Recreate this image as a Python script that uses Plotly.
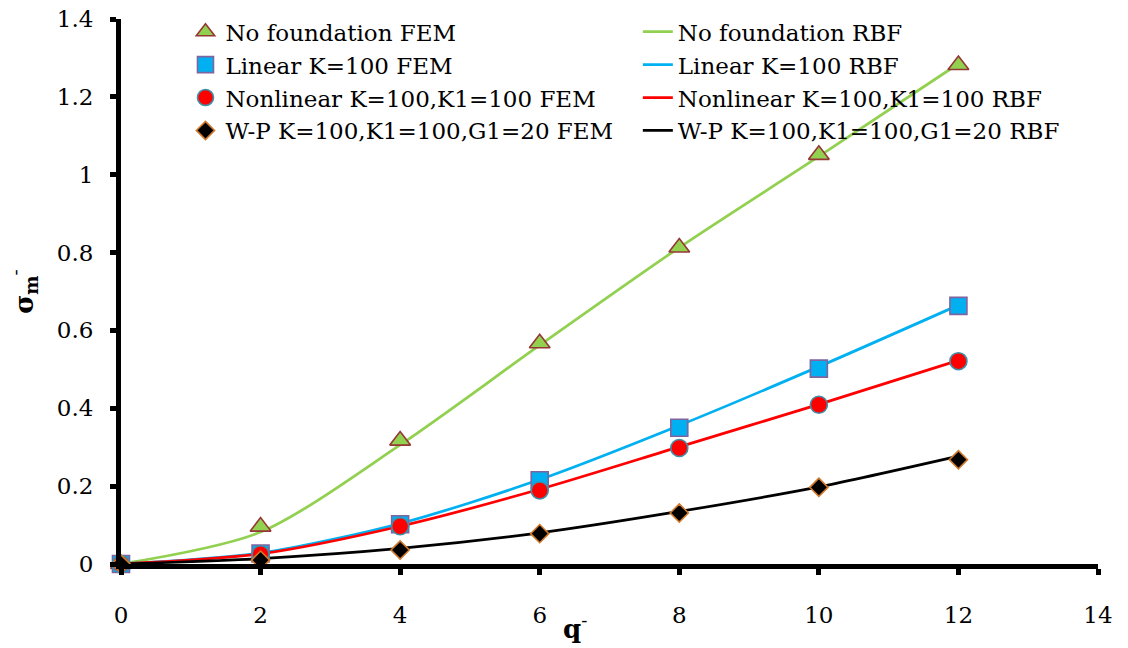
import plotly.graph_objects as go

# Load parameter q and stress values
q = [0, 2, 4, 6, 8, 10, 12]

# FEM results (markers)
fem_none = [0, 0.096, 0.317, 0.567, 0.813, 1.051, 1.282]
fem_linear = [0, 0.027, 0.102, 0.215, 0.35, 0.502, 0.663]
fem_nonlinear = [0, 0.025, 0.097, 0.189, 0.298, 0.409, 0.521]
fem_wp = [0, 0.01, 0.036, 0.078, 0.131, 0.197, 0.268]

# RBF results (smooth lines)
rbf_none = [0, 0.082, 0.306, 0.562, 0.813, 1.047, 1.285]
rbf_linear = [0, 0.028, 0.104, 0.217, 0.356, 0.507, 0.665]
rbf_nonlinear = [0, 0.026, 0.097, 0.192, 0.301, 0.41, 0.523]
rbf_wp = [0, 0.014, 0.04, 0.08, 0.135, 0.198, 0.277]

x_ticks = [0, 2, 4, 6, 8, 10, 12, 14]
y_ticks = [0, 0.2, 0.4, 0.6, 0.8, 1.0, 1.2, 1.4]
y_tick_text = ["0", "0.2", "0.4", "0.6", "0.8", "1", "1.2", "1.4"]

FONT = "DejaVu Serif"

fig = go.Figure()

lines = [
    ("No foundation RBF", rbf_none, "#92D050"),
    ("Linear K=100 RBF", rbf_linear, "#00B0F0"),
    ("Nonlinear K=100,K1=100 RBF", rbf_nonlinear, "#FF0000"),
    ("W-P K=100,K1=100,G1=20 RBF", rbf_wp, "#000000"),
]
for name, vals, color in lines:
    fig.add_trace(go.Scatter(
        x=q, y=vals, name=name, mode="lines",
        line=dict(color=color, width=2.75, shape="spline", smoothing=0.8),
        legend="legend2", cliponaxis=False,
    ))

markers = [
    ("No foundation FEM", fem_none, "triangle-up", 18, "#92D050", "#953735"),
    ("Linear K=100 FEM", fem_linear, "square", 17, "#00B0F0", "#7F649F"),
    ("Nonlinear K=100,K1=100 FEM", fem_nonlinear, "circle", 17, "#FF0000", "#3E8FA8"),
    ("W-P K=100,K1=100,G1=20 FEM", fem_wp, "diamond", 14, "#000000", "#D27A2C"),
]
for name, vals, sym, size, fill, edge in markers:
    fig.add_trace(go.Scatter(
        x=q, y=vals, name=name, mode="markers",
        marker=dict(symbol=sym, size=size, color=fill,
                    line=dict(color=edge, width=1.6)),
        legend="legend", cliponaxis=False,
    ))

axis_common = dict(
    showgrid=False, zeroline=False, showline=True, linecolor="black",
    linewidth=5, ticks="outside", ticklen=6, tickwidth=5, tickcolor="black",
    tickfont=dict(family=FONT, size=23, color="black"),
)

fig.update_xaxes(range=[0, 14], tickvals=x_ticks, ticklabelstandoff=20, **axis_common)
fig.update_yaxes(range=[0, 1.4], tickvals=y_ticks, ticktext=y_tick_text,
                 ticklabelstandoff=12, **axis_common)

legend_font = dict(family=FONT, size=23, color="black")
fig.update_layout(
    width=1128, height=648,
    margin=dict(l=121, r=30, t=19, b=84, autoexpand=False),
    plot_bgcolor="white", paper_bgcolor="white",
    font=dict(family=FONT),
    legend=dict(x=0.066, y=1.016, xanchor="left", yanchor="top",
                font=legend_font, bgcolor="rgba(0,0,0,0)", tracegroupgap=0),
    legend2=dict(x=0.529, y=1.016, xanchor="left", yanchor="top",
                 font=legend_font, bgcolor="rgba(0,0,0,0)", tracegroupgap=0),
    annotations=[
        dict(text="<b>q</b><sup>-</sup>", xref="paper", yref="paper",
             x=0.465, y=-0.115, xanchor="center", yanchor="middle",
             showarrow=False, font=dict(family=FONT, size=26, color="black")),
        dict(text="<b>σ<sub>m</sub></b><sup>-</sup>", xref="paper", yref="paper",
             x=-0.1, y=0.5, xanchor="center", yanchor="middle", textangle=-90,
             showarrow=False, font=dict(family=FONT, size=26, color="black")),
    ],
)

fig.write_html("out.html")
